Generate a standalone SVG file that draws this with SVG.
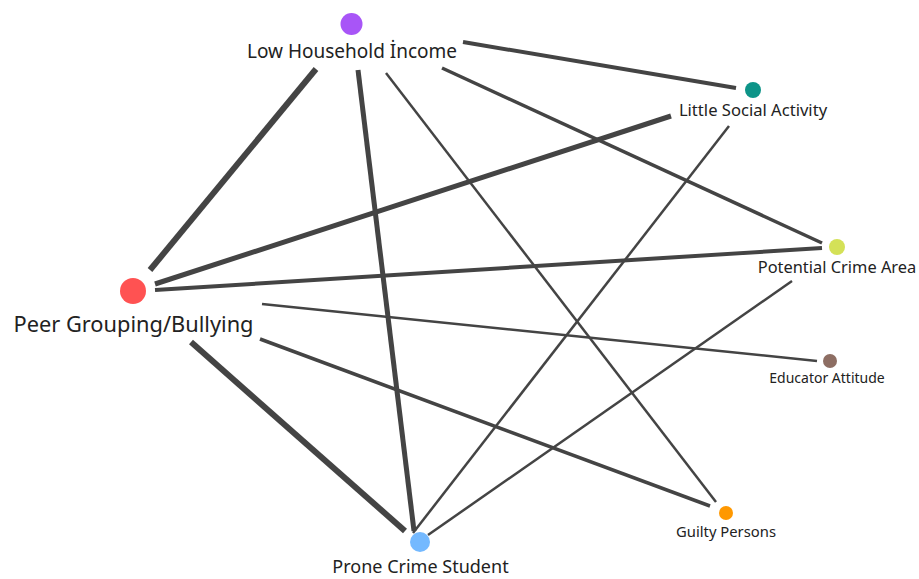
<svg xmlns="http://www.w3.org/2000/svg" width="919" height="579" viewBox="0 0 919 579">
<style>
.e{stroke:#444;stroke-linecap:butt;fill:none}
.t{font-family:"Noto Sans","Open Sans","Liberation Sans",sans-serif;fill:#222;text-anchor:middle}
</style>
<rect width="919" height="579" fill="#fff"/>
<g id="connectors">
<line class="e" x1="150" y1="270" x2="316" y2="69" stroke-width="6"/>
<line class="e" x1="155" y1="284" x2="671" y2="116" stroke-width="5"/>
<line class="e" x1="155" y1="290" x2="822" y2="248" stroke-width="4"/>
<line class="e" x1="262" y1="304" x2="817" y2="361" stroke-width="2.5"/>
<line class="e" x1="260" y1="339" x2="710" y2="506" stroke-width="3.5"/>
<line class="e" x1="191" y1="342" x2="405" y2="531" stroke-width="6"/>
<line class="e" x1="463" y1="42" x2="736" y2="88" stroke-width="4"/>
<line class="e" x1="442" y1="68" x2="822" y2="243" stroke-width="3.5"/>
<line class="e" x1="358" y1="70" x2="414" y2="531" stroke-width="5"/>
<line class="e" x1="386" y1="73" x2="716" y2="502" stroke-width="2.5"/>
<line class="e" x1="729" y1="126" x2="413" y2="533" stroke-width="2.5"/>
<line class="e" x1="792" y1="281" x2="428" y2="535" stroke-width="2.5"/>
</g>
<g id="low-household-income">
<circle cx="351.5" cy="24" r="11" fill="#a855f7"/>
<text class="t" x="352" y="58" font-size="19">Low Household İncome</text>
</g>
<g id="little-social-activity">
<circle cx="753" cy="90" r="8" fill="#0d9488"/>
<text class="t" x="753" y="116" font-size="16.6">Little Social Activity</text>
</g>
<g id="potential-crime-area">
<circle cx="837" cy="247" r="8" fill="#d4e157"/>
<text class="t" x="837" y="273" font-size="16.4">Potential Crime Area</text>
</g>
<g id="educator-attitude">
<circle cx="830" cy="361" r="7" fill="#8d6e63"/>
<text class="t" x="827" y="383" font-size="14">Educator Attitude</text>
</g>
<g id="guilty-persons">
<circle cx="726" cy="513" r="7" fill="#ff9800"/>
<text class="t" x="726" y="537" font-size="14.8">Guilty Persons</text>
</g>
<g id="prone-crime-student">
<circle cx="420" cy="542" r="10" fill="#74b9ff"/>
<text class="t" x="420.5" y="573" font-size="18">Prone Crime Student</text>
</g>
<g id="peer-grouping-bullying">
<circle cx="133" cy="291" r="13" fill="#ff5252"/>
<text class="t" x="133.5" y="332" font-size="21.8">Peer Grouping/Bullying</text>
</g>
</svg>
